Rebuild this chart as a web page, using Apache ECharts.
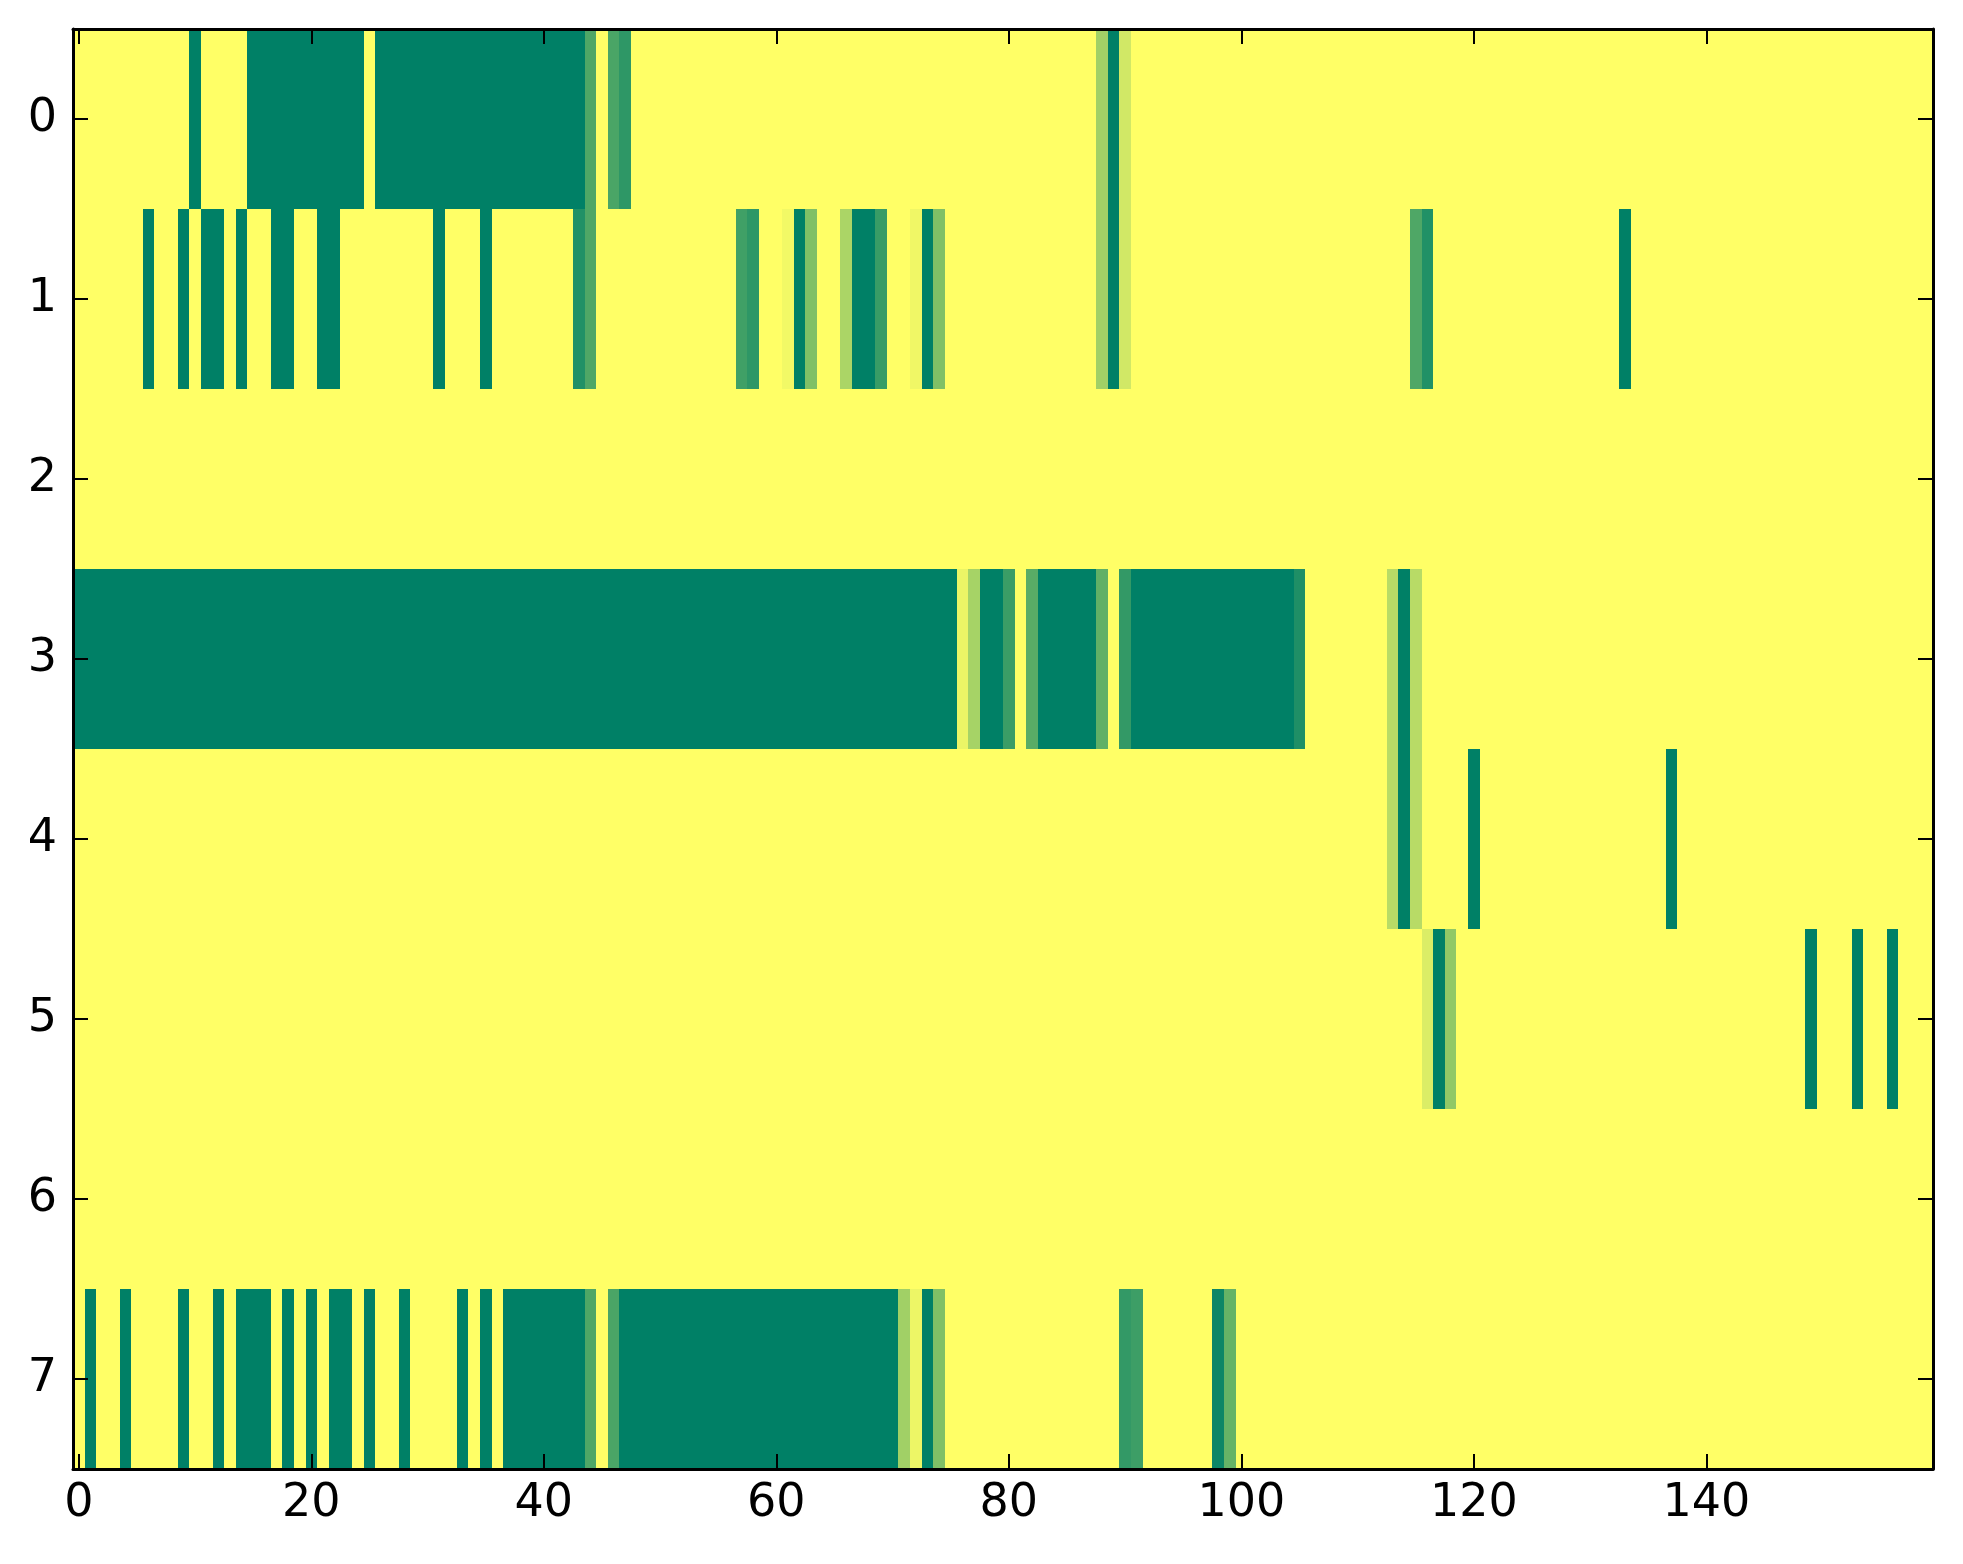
<!DOCTYPE html>
<html>
<head>
<meta charset="utf-8">
<script src="https://cdn.jsdelivr.net/npm/echarts@6/dist/echarts.min.js"></script>
<style>
html,body{margin:0;padding:0;background:#fff;}
#c{width:1963px;height:1564px;}
</style>
</head>
<body>
<div id="c"></div>
<script>
// columns 0..159, rows 0..7
const nCols = 160;
const rowLabels = ['0','1','2','3','4','5','6','7'];
const xTickValues = [0, 20, 40, 60, 80, 100, 120, 140];

// runs per row: [startCol, endCol, value]  (value 0 = yellow, 1 = dark green)
const row0 = [[10,10,1],[15,24,1],[26,43,1],[44,44,0.69],[46,46,0.71],[47,47,0.82],
              [88,88,0.37],[89,89,1],[90,90,0.18]];
const row1 = [[6,6,1],[9,9,1],[11,12,1],[14,14,1],[17,18,1],[21,22,1],[31,31,1],[35,35,1],
              [43,43,0.87],[44,44,0.69],[57,57,0.75],[58,58,0.82],[61,61,0.05],[62,62,1],
              [63,63,0.5],[66,66,0.33],[67,68,1],[69,69,0.78],[72,72,0.06],[73,73,1],
              [74,74,0.5],[88,88,0.37],[89,89,1],[90,90,0.18],[115,115,0.69],[116,116,0.87],
              [133,133,1]];
const row2 = [];
const row3 = [[0,75,1],[76,76,0.08],[77,77,0.35],[78,79,1],[80,80,0.77],[82,82,0.65],
              [83,87,1],[88,88,0.62],[90,90,0.8],[91,104,1],[105,105,0.88],
              [113,113,0.28],[114,114,1],[115,115,0.28]];
const row4 = [[113,113,0.28],[114,114,1],[115,115,0.28],[120,120,1],[137,137,1]];
const row5 = [[116,116,0.14],[117,117,1],[118,118,0.43],[149,149,1],[153,153,1],[156,156,1]];
const row6 = [];
const row7 = [[1,1,1],[4,4,1],[9,9,1],[12,12,1],[14,16,1],[18,18,1],[20,20,1],[22,23,1],
              [25,25,1],[28,28,1],[33,33,1],[35,35,1],[37,43,1],[44,44,0.69],[46,46,0.71],
              [47,70,1],[71,71,0.37],[72,72,0.07],[73,73,1],[74,74,0.5],[90,90,0.8],
              [91,91,0.76],[98,98,0.95],[99,99,0.6]];

const rows = [row0,row1,row2,row3,row4,row5,row6,row7];
const xCats = [];
for (let i = 0; i < nCols; i++) xCats.push(String(i));

const data = [];
rows.forEach((runs, r) => {
  const vals = new Array(nCols).fill(0);
  runs.forEach(([s, e, v]) => { for (let c = s; c <= e; c++) vals[c] = v; });
  vals.forEach((v, c) => data.push([c, r, v]));
});

const font = 'DejaVu Sans';
const tickOn = (i) => xTickValues.indexOf(i) >= 0;
const axisLineStyle = {show: true, lineStyle: {color: '#000', width: 3}};
const tickStyle = {color: '#000', width: 2};

function renderCell(params, api) {
  const center = api.coord([api.value(0), api.value(1)]);
  const size = api.size([1, 1]);
  const x0 = Math.round(center[0] - size[0] / 2);
  const x1 = Math.round(center[0] + size[0] / 2);
  const y0 = Math.round(center[1] - size[1] / 2);
  const y1 = Math.round(center[1] + size[1] / 2);
  return {
    type: 'rect',
    shape: {x: x0, y: y0, width: x1 - x0, height: y1 - y0},
    style: {fill: api.visual('color'), stroke: null}
  };
}

const chart = echarts.init(document.getElementById('c'), null, {renderer: 'canvas'});
chart.setOption({
  animation: false,
  backgroundColor: '#fff',
  grid: {left: 73, right: 30, top: 29, bottom: 95, containLabel: false},
  visualMap: {type: 'continuous', min: 0, max: 1, show: false, dimension: 2,
              inRange: {color: ['#ffff66', '#008066']}},
  xAxis: [
    {type: 'category', data: xCats, position: 'bottom', boundaryGap: true, z: 10,
     axisLine: axisLineStyle,
     axisTick: {show: true, inside: true, length: 15, alignWithLabel: true, interval: tickOn, lineStyle: tickStyle},
     axisLabel: {show: true, interval: tickOn, fontSize: 46, fontFamily: font, color: '#000', margin: 12},
     splitLine: {show: false}},
    {type: 'category', data: xCats, position: 'top', boundaryGap: true, z: 10,
     axisLine: axisLineStyle,
     axisTick: {show: true, inside: true, length: 15, alignWithLabel: true, interval: tickOn, lineStyle: tickStyle},
     axisLabel: {show: false}, splitLine: {show: false}}
  ],
  yAxis: [
    {type: 'category', data: rowLabels, inverse: true, position: 'left', boundaryGap: true, z: 10,
     axisLine: axisLineStyle,
     axisTick: {show: true, inside: true, length: 15, alignWithLabel: true, interval: 0, lineStyle: tickStyle},
     axisLabel: {show: true, interval: 0, fontSize: 46, fontFamily: font, color: '#000', margin: 16},
     splitLine: {show: false}},
    {type: 'category', data: rowLabels, inverse: true, position: 'right', boundaryGap: true, z: 10,
     axisLine: axisLineStyle,
     axisTick: {show: true, inside: true, length: 15, alignWithLabel: true, interval: 0, lineStyle: tickStyle},
     axisLabel: {show: false}, splitLine: {show: false}}
  ],
  series: [{
    type: 'custom', xAxisIndex: 0, yAxisIndex: 0, data: data,
    renderItem: renderCell,
    encode: {x: 0, y: 1},
    silent: true, progressive: 0, z: 2
  }]
});
</script>
</body>
</html>
